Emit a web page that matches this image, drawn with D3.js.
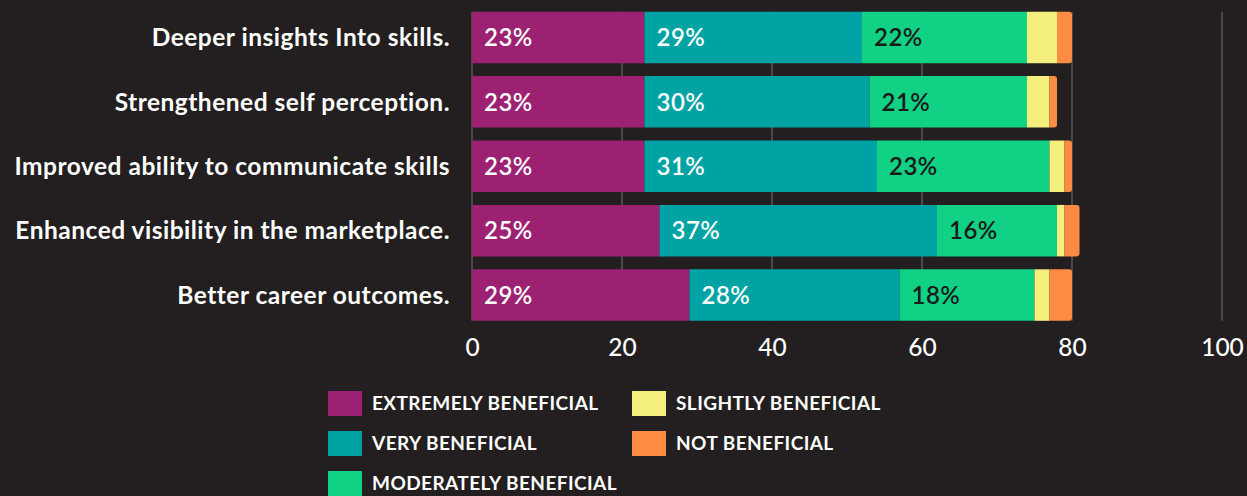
<!DOCTYPE html>
<html>
<head>
<meta charset="utf-8">
<script src="https://cdn.jsdelivr.net/npm/d3@7"></script>
<style>
  html, body { margin: 0; padding: 0; background: #231f20; }
  svg { display: block; }
  text { font-family: Lato, "Open Sans", sans-serif; }
</style>
</head>
<body>
<svg id="chart" width="1247" height="496"></svg>
<script>
const categories = [
  "Deeper insights Into skills.",
  "Strengthened self perception.",
  "Improved ability to communicate skills",
  "Enhanced visibility in the marketplace.",
  "Better career outcomes."
];
const seriesNames = ["EXTREMELY BENEFICIAL", "VERY BENEFICIAL", "MODERATELY BENEFICIAL", "SLIGHTLY BENEFICIAL", "NOT BENEFICIAL"];
const extremely  = [23, 23, 23, 25, 29];
const very       = [29, 30, 31, 37, 28];
const moderately = [22, 21, 23, 16, 18];
const slightly   = [4, 3, 2, 1, 2];
const notBen     = [2, 1, 1, 2, 3];
const xTicks = [0, 20, 40, 60, 80, 100];
const colors = ["#9c2173", "#00a3a3", "#10d184", "#f4ee7c", "#ff8c42"];
const labelColors = ["#ffffff", "#ffffff", "#1a1a1a", null, null];

const seriesValues = [extremely, very, moderately, slightly, notBen];
const rows = categories.map((c, i) => {
  const o = { category: c };
  seriesNames.forEach((s, j) => { o[s] = seriesValues[j][i]; });
  return o;
});
const stacked = d3.stack().keys(seriesNames)(rows);

const svg = d3.select("#chart");
const x = d3.scaleLinear().domain([0, 100]).range([472, 1222]);
const y = d3.scaleBand().domain(categories).range([5.26, 327.26]).paddingInner(0.2).paddingOuter(0.1);

const yTop = y(categories[0]);
const yBot = y(categories[categories.length - 1]) + y.bandwidth();

// gridlines
svg.append("g").selectAll("line").data(xTicks).join("line")
  .attr("x1", d => x(d)).attr("x2", d => x(d))
  .attr("y1", yTop).attr("y2", yBot)
  .attr("stroke", "#5a5758").attr("stroke-width", 1.5);

// bars
const r = 3;
function segPath(x0, x1, yy, h, roundRight) {
  if (!roundRight) return `M${x0},${yy}H${x1}V${yy + h}H${x0}Z`;
  return `M${x0},${yy}H${x1 - r}Q${x1},${yy} ${x1},${yy + r}V${yy + h - r}Q${x1},${yy + h} ${x1 - r},${yy + h}H${x0}Z`;
}
stacked.forEach((layer, j) => {
  svg.append("g").selectAll("path").data(layer).join("path")
    .attr("fill", colors[j])
    .attr("d", d => segPath(x(d[0]), x(d[1]), y(d.data.category), y.bandwidth(), j === seriesNames.length - 1));
});

// value labels
stacked.forEach((layer, j) => {
  if (!labelColors[j]) return;
  svg.append("g").selectAll("text").data(layer).join("text")
    .attr("x", d => x(d[0]) + 12)
    .attr("y", d => y(d.data.category) + y.bandwidth() / 2)
    .attr("dy", "0.36em")
    .attr("fill", labelColors[j])
    .attr("font-size", 24)
    .attr("font-weight", 600)
    .attr("letter-spacing", 0.5)
    .text(d => (d[1] - d[0]) + "%");
});

// category labels
svg.append("g").selectAll("text").data(categories).join("text")
  .attr("x", 450)
  .attr("y", d => y(d) + y.bandwidth() / 2)
  .attr("dy", "0.36em")
  .attr("text-anchor", "end")
  .attr("fill", "#ffffff")
  .attr("font-size", 24.5)
  .attr("font-weight", 700)
  .attr("letter-spacing", 0.5)
  .text(d => d);

// x axis
const xAxis = svg.append("g").attr("transform", `translate(0,${yBot})`)
  .call(d3.axisBottom(x).tickValues(xTicks).tickSize(0).tickPadding(18).tickFormat(d3.format("d")));
xAxis.select(".domain").remove();
xAxis.selectAll("text").attr("fill", "#ffffff").attr("font-size", 24.5)
  .attr("font-family", "Lato, sans-serif").attr("font-weight", 500);

// legend
const legendItems = [
  { name: seriesNames[0], color: colors[0], col: 0, row: 0 },
  { name: seriesNames[1], color: colors[1], col: 0, row: 1 },
  { name: seriesNames[2], color: colors[2], col: 0, row: 2 },
  { name: seriesNames[3], color: colors[3], col: 1, row: 0 },
  { name: seriesNames[4], color: colors[4], col: 1, row: 1 }
];
const lg = svg.append("g").selectAll("g").data(legendItems).join("g")
  .attr("transform", d => `translate(${d.col ? 632 : 328},${391 + d.row * 40})`);
lg.append("rect").attr("width", 34).attr("height", 25).attr("fill", d => d.color);
lg.append("text").attr("x", 44).attr("y", 12.5).attr("dy", "0.36em")
  .attr("fill", "#ffffff").attr("font-size", 19).attr("font-weight", 700)
  .attr("letter-spacing", 0.43)
  .text(d => d.name);
</script>
</body>
</html>
